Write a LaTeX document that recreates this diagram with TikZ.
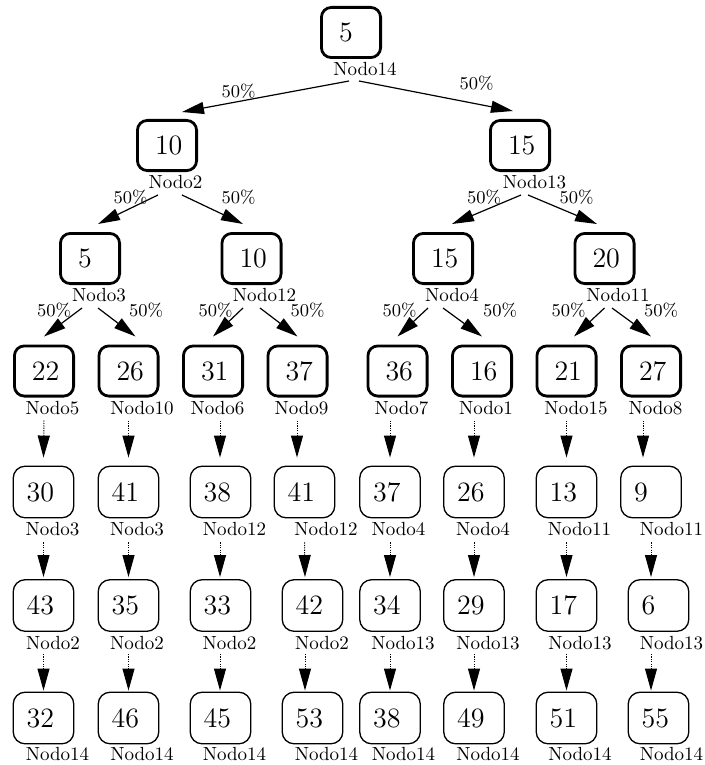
\documentclass[tikz,border=0pt]{standalone}
\usepackage{tikz}
\usetikzlibrary{arrows.meta,calc}

\begin{document}
\begin{tikzpicture}[
  x=0.5pt, y=-0.5pt,
  bold/.style={draw, line width=1.4pt, rounded corners=5pt, align=left, text width=12pt, inner xsep=8.8pt, inner ysep=0pt, minimum height=25.1pt, font=\fontsize{14pt}{16pt}\selectfont},
  plain/.style={draw, line width=0.65pt, rounded corners=6pt, align=left, text width=16.9pt, inner xsep=6.7pt, inner ysep=0pt, minimum height=25.8pt, font=\fontsize{14pt}{16pt}\selectfont},
  lab/.style={inner sep=0pt, font=\fontsize{9.5pt}{11pt}\selectfont},
  pct/.style={inner sep=0pt, font=\fontsize{9pt}{10pt}\selectfont},
  prob/.style={-{Triangle[length=11pt,width=6pt]}, line width=0.6pt},
  flow/.style={-{Triangle[length=11pt,width=6pt]}, line width=0.5pt, dash pattern=on 0.6pt off 0.6pt}
]
\useasboundingbox (0,0) rectangle (705,765);
% root and first levels
\node[bold] (a) at (351,32.5) {5};
\node[bold] (b1) at (167,145.5) {10};
\node[bold] (b2) at (520,145.5) {15};
\node[bold] (c1) at (90,258.5) {5};
\node[bold] (c2) at (251.5,258.5) {10};
\node[bold] (c3) at (443,258.5) {15};
\node[bold] (c4) at (604.5,258.5) {20};
\node[bold] (d1) at (44,371) {22};
\node[bold] (d2) at (128.5,371) {26};
\node[bold] (d3) at (213,371) {31};
\node[bold] (d4) at (297.5,371) {37};
\node[bold] (d5) at (397.5,371) {36};
\node[bold] (d6) at (482,371) {16};
\node[bold] (d7) at (566.5,371) {21};
\node[bold] (d8) at (651,371) {27};
% chains
\node[plain] (e1) at (43.5,492) {30};
\node[plain] (e2) at (128.5,492) {41};
\node[plain] (e3) at (220.5,492) {38};
\node[plain] (e4) at (304.5,492) {41};
\node[plain] (e5) at (390,492) {37};
\node[plain] (e6) at (474,492) {26};
\node[plain] (e7) at (566.5,492) {13};
\node[plain] (e8) at (651,492) {9};
\node[plain] (f1) at (43.5,605.5) {43};
\node[plain] (f2) at (128.5,605.5) {35};
\node[plain] (f3) at (220.5,605.5) {33};
\node[plain] (f4) at (312.5,605.5) {42};
\node[plain] (f5) at (390,605.5) {34};
\node[plain] (f6) at (474,605.5) {29};
\node[plain] (f7) at (566.5,605.5) {17};
\node[plain] (f8) at (658.5,605.5) {6};
\node[plain] (g1) at (43.5,718) {32};
\node[plain] (g2) at (128.5,718) {46};
\node[plain] (g3) at (220.5,718) {45};
\node[plain] (g4) at (312.5,718) {53};
\node[plain] (g5) at (390,718) {38};
\node[plain] (g6) at (474,718) {49};
\node[plain] (g7) at (566.5,718) {51};
\node[plain] (g8) at (658.5,718) {55};
% node names
\node[lab] (ta) at (365,69) {Nodo14};
\node[lab] (tb1) at (175.5,182) {Nodo2};
\node[lab] (tb2) at (534.5,182) {Nodo13};
\node[lab] (tc1) at (99,295) {Nodo3};
\node[lab] (tc2) at (264.5,295) {Nodo12};
\node[lab] (tc3) at (452,295) {Nodo4};
\node[lab] (tc4) at (618,295) {Nodo11};
\node[lab] (td1) at (52.5,408) {Nodo5};
\node[lab] (td2) at (142,408) {Nodo10};
\node[lab] (td3) at (217.5,408) {Nodo6};
\node[lab] (td4) at (301.5,408) {Nodo9};
\node[lab] (td5) at (401.5,408) {Nodo7};
\node[lab] (td6) at (486,408) {Nodo1};
\node[lab] (td7) at (576,408) {Nodo15};
\node[lab] (td8) at (655.5,408) {Nodo8};
\node[lab] (te1) at (52.5,529) {Nodo3};
\node[lab] (te2) at (137,529) {Nodo3};
\node[lab] (te3) at (234.5,529) {Nodo12};
\node[lab] (te4) at (326,529) {Nodo12};
\node[lab] (te5) at (398.5,529) {Nodo4};
\node[lab] (te6) at (483,529) {Nodo4};
\node[lab] (te7) at (579.5,529) {Nodo11};
\node[lab] (te8) at (671.5,529) {Nodo11};
\node[lab] (tf1) at (53,643) {Nodo2};
\node[lab] (tf2) at (137,643) {Nodo2};
\node[lab] (tf3) at (229.5,643) {Nodo2};
\node[lab] (tf4) at (322,643) {Nodo2};
\node[lab] (tf5) at (403,643) {Nodo13};
\node[lab] (tf6) at (488,643) {Nodo13};
\node[lab] (tf7) at (580,643) {Nodo13};
\node[lab] (tf8) at (671.5,643) {Nodo13};
\node[lab] (tg1) at (57.5,754) {Nodo14};
\node[lab] (tg2) at (142,754) {Nodo14};
\node[lab] (tg3) at (234.5,754) {Nodo14};
\node[lab] (tg4) at (326.5,754) {Nodo14};
\node[lab] (tg5) at (403.5,754) {Nodo14};
\node[lab] (tg6) at (488,754) {Nodo14};
\node[lab] (tg7) at (580,754) {Nodo14};
\node[lab] (tg8) at (671.5,754) {Nodo14};
% probabilities
\node[pct] (pa1) at (238.5,91.5) {50\%};
\node[pct] (pa2) at (476.5,83) {50\%};
\node[pct] (pb1) at (130.5,197) {50\%};
\node[pct] (pb2) at (238.5,197) {50\%};
\node[pct] (pb3) at (484,197) {50\%};
\node[pct] (pb4) at (576.5,197) {50\%};
\node[pct] (pc1) at (54,310) {50\%};
\node[pct] (pc2) at (146,310) {50\%};
\node[pct] (pc3) at (215.5,310) {50\%};
\node[pct] (pc4) at (307.5,310) {50\%};
\node[pct] (pc5) at (399.5,310) {50\%};
\node[pct] (pc6) at (500,310) {50\%};
\node[pct] (pc7) at (568.5,310) {50\%};
\node[pct] (pc8) at (661,310) {50\%};
% tree edges
\draw[prob] ($(a.south)+(-2,22)$) -- ($(b1.north)+(15,-7)$);
\draw[prob] ($(a.south)+(8,22)$) -- ($(b2.north)+(-7,-8)$);
\draw[prob] ($(b1.south)+(-9,23)$) -- ($(c1.north)+(8,-8)$);
\draw[prob] ($(b1.south)+(15,23)$) -- ($(c2.north)+(-8.5,-8)$);
\draw[prob] ($(b2.south)+(1,23)$) -- ($(c3.north)+(9,-8)$);
\draw[prob] ($(b2.south)+(8,23)$) -- ($(c4.north)+(-7.5,-8)$);
\draw[prob] ($(c1.south)+(-8,23)$) -- ($(d1.north)+(0,-8)$);
\draw[prob] ($(c1.south)+(8,23)$) -- ($(d2.north)+(7,-8)$);
\draw[prob] ($(c2.south)+(-8.5,23)$) -- ($(d3.north)+(0,-8)$);
\draw[prob] ($(c2.south)+(8.5,23)$) -- ($(d4.north)+(0,-8)$);
\draw[prob] ($(c3.south)+(-15,23)$) -- ($(d5.north)+(0,-8)$);
\draw[prob] ($(c3.south)+(0,23)$) -- ($(d6.north)+(0,-8)$);
\draw[prob] ($(c4.south)+(0,23)$) -- ($(d7.north)+(7.5,-8)$);
\draw[prob] ($(c4.south)+(7.5,23)$) -- ($(d8.north)+(0,-8)$);
% dotted chains
\draw[flow] ($(d1.south)+(0,23)$) -- ($(e1.north)+(0,-8)$);
\draw[flow] ($(d2.south)+(0,23)$) -- ($(e2.north)+(0,-8)$);
\draw[flow] ($(d3.south)+(7,23)$) -- ($(e3.north)+(-0.5,-8)$);
\draw[flow] ($(d4.south)+(-0.5,23)$) -- ($(e4.north)+(-7.5,-8)$);
\draw[flow] ($(d5.south)+(-7.5,23)$) -- ($(e5.north)+(0,-8)$);
\draw[flow] ($(d6.south)+(-8,23)$) -- ($(e6.north)+(0,-8)$);
\draw[flow] ($(d7.south)+(0,23)$) -- ($(e7.north)+(0,-8)$);
\draw[flow] ($(d8.south)+(-8,23)$) -- ($(e8.north)+(-8,-8)$);
\draw[flow] ($(e1.south)+(0,24)$) -- ($(f1.north)+(0,-2)$);
\draw[flow] ($(e2.south)+(0,24)$) -- ($(f2.north)+(0,-2)$);
\draw[flow] ($(e3.south)+(-0.5,24)$) -- ($(f3.north)+(-0.5,-2)$);
\draw[flow] ($(e4.south)+(0,24)$) -- ($(f4.north)+(-7.5,-2)$);
\draw[flow] ($(e5.south)+(0,24)$) -- ($(f5.north)+(0,-2)$);
\draw[flow] ($(e6.south)+(0,24)$) -- ($(f6.north)+(0,-2)$);
\draw[flow] ($(e7.south)+(0,24)$) -- ($(f7.north)+(0,-2)$);
\draw[flow] ($(e8.south)+(0,24)$) -- ($(f8.north)+(-7.5,-2)$);
\draw[flow] ($(f1.south)+(0,22)$) -- ($(g1.north)+(0,-1)$);
\draw[flow] ($(f2.south)+(0,22)$) -- ($(g2.north)+(0,-1)$);
\draw[flow] ($(f3.south)+(-0.5,22)$) -- ($(g3.north)+(-0.5,-1)$);
\draw[flow] ($(f4.south)+(-7.5,22)$) -- ($(g4.north)+(-7.5,-1)$);
\draw[flow] ($(f5.south)+(0,22)$) -- ($(g5.north)+(0,-1)$);
\draw[flow] ($(f6.south)+(0,22)$) -- ($(g6.north)+(0,-1)$);
\draw[flow] ($(f7.south)+(0,22)$) -- ($(g7.north)+(0,-1)$);
\draw[flow] ($(f8.south)+(-7.5,22)$) -- ($(g8.north)+(-7.5,-1)$);
\end{tikzpicture}
\end{document}
